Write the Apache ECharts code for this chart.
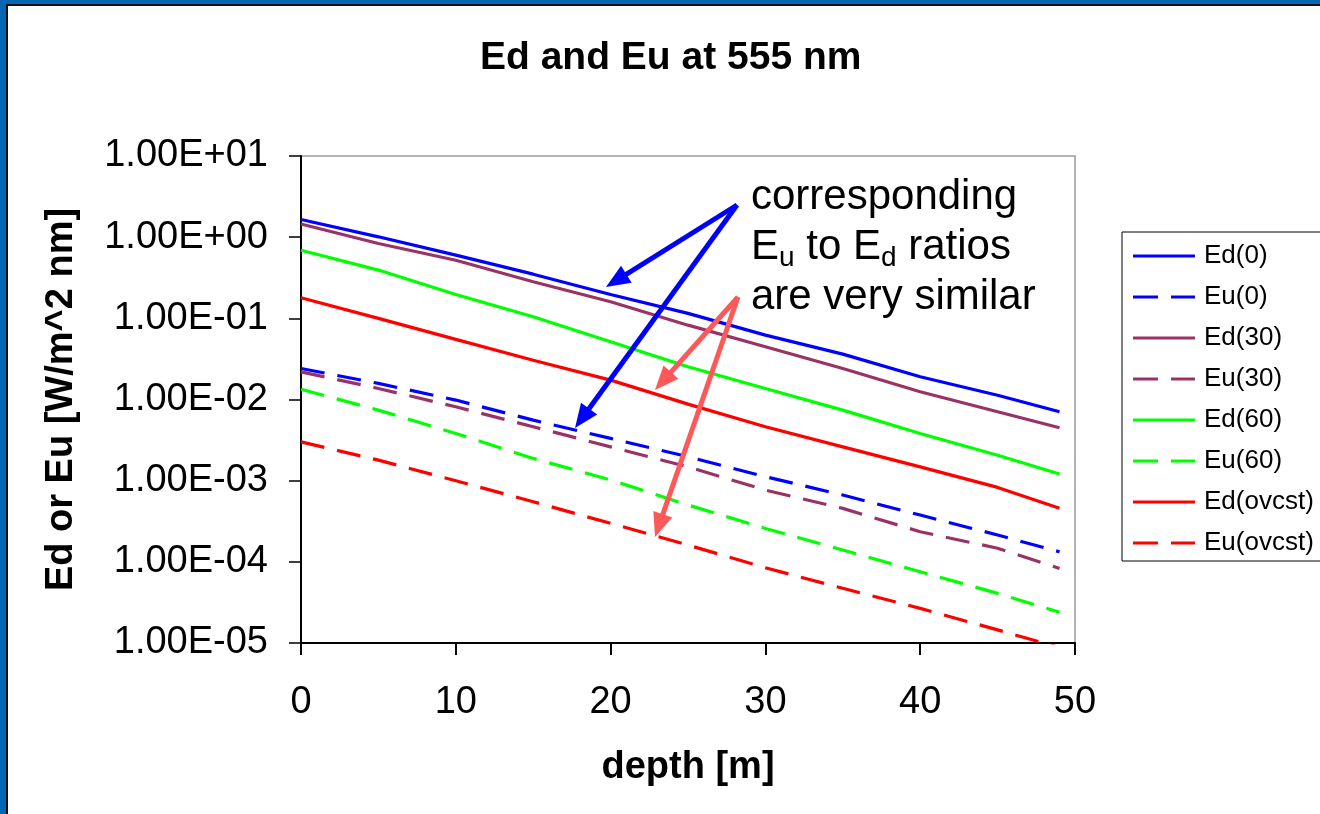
<!DOCTYPE html>
<html><head><meta charset="utf-8">
<script src="https://cdn.jsdelivr.net/npm/echarts@6/dist/echarts.min.js"></script>
<style>html,body{margin:0;padding:0;background:#fff}#c{width:1320px;height:814px}</style>
</head><body><div id="c"></div>
<script>
// ---- data ----
const depth = [0, 5, 10, 15, 20, 25, 30, 35, 40, 45, 49];
const Ed0     = [1.65, 1.01, 0.60, 0.35, 0.197, 0.115, 0.0621, 0.0362, 0.0191, 0.0113, 0.00706];
const Eu0     = [0.0241, 0.01578, 0.00984, 0.00557, 0.00332, 0.00197, 0.00112, 0.000665, 0.000377, 0.000214, 0.000133];
const Ed30    = [1.45, 0.835, 0.52, 0.282, 0.160, 0.0824, 0.0446, 0.0241, 0.01245, 0.00706, 0.00448];
const Eu30    = [0.0219, 0.01367, 0.00813, 0.00461, 0.00261, 0.00148, 0.000766, 0.000456, 0.000235, 0.000147, 0.000083];
const Ed60    = [0.69, 0.393, 0.197, 0.1045, 0.0514, 0.0253, 0.01367, 0.0074, 0.00382, 0.00206, 0.00121];
const Eu60    = [0.0134, 0.0074, 0.00382, 0.00188, 0.00102, 0.000501, 0.000258, 0.00014, 0.0000755, 0.0000409, 0.0000239];
const EdOvcst = [0.179, 0.0998, 0.055, 0.0305, 0.01734, 0.00877, 0.00461, 0.00261, 0.00148, 0.000826, 0.000456];
const EuOvcst = [0.00301, 0.00179, 0.000998, 0.00055, 0.000298, 0.000161, 0.0000845, 0.0000472, 0.0000267, 0.0000145, 0.0000088];
const seriesNames = ['Ed(0)', 'Eu(0)', 'Ed(30)', 'Eu(30)', 'Ed(60)', 'Eu(60)', 'Ed(ovcst)', 'Eu(ovcst)'];
const seriesData  = [Ed0, Eu0, Ed30, Eu30, Ed60, Eu60, EdOvcst, EuOvcst];
const yTickLabels = {'-5':'1.00E-05','-4':'1.00E-04','-3':'1.00E-03','-2':'1.00E-02','-1':'1.00E-01','0':'1.00E+00','1':'1.00E+01'};
const xTicks = [0, 10, 20, 30, 40, 50];

// ---- styles ----
const FONT = "'Liberation Sans', Arial, sans-serif";
const colors = ['#0000FF', '#0000FF', '#993366', '#993366', '#00FF00', '#00FF00', '#FF0000', '#FF0000'];
const ICON_SOLID  = 'path://M0,0h62v3h-62z';
const ICON_DASHED = 'path://M0,0h25v3h-25zM38,0h24v3h-24z';

const series = seriesNames.map((n, i) => ({
  name: n,
  type: 'line',
  data: depth.map((d, j) => [d, seriesData[i][j]]),
  symbol: 'none',
  showSymbol: false,
  clip: true,
  z: 3,
  lineStyle: { color: colors[i], width: 3.2, type: (i % 2 === 1) ? [24, 13] : 'solid', cap: 'butt' },
  itemStyle: { color: colors[i] }
}));

function arrow(x0, y0, x1, y1, color, w) {
  const dx = x1 - x0, dy = y1 - y0, L = Math.hypot(dx, dy), ux = dx / L, uy = dy / L;
  const hl = 24, hw = 10;
  const bx = x1 - ux * hl, by = y1 - uy * hl;
  return [
    { type: 'line', z: 100, shape: { x1: x0, y1: y0, x2: bx + ux * 3, y2: by + uy * 3 }, style: { stroke: color, lineWidth: w } },
    { type: 'polygon', z: 100, shape: { points: [[x1, y1], [bx - uy * hw, by + ux * hw], [bx + uy * hw, by - ux * hw]] }, style: { fill: color } }
  ];
}

const frameBlue = '#0666b2';
const graphics = [
  { type: 'rect', z: 200, shape: { x: 0, y: 0, width: 1320, height: 4 }, style: { fill: frameBlue } },
  { type: 'rect', z: 200, shape: { x: 0, y: 0, width: 6, height: 814 }, style: { fill: frameBlue } },
  { type: 'rect', z: 200, shape: { x: 6, y: 4, width: 1314, height: 2 }, style: { fill: '#111' } },
  { type: 'rect', z: 200, shape: { x: 6, y: 4, width: 2, height: 810 }, style: { fill: '#111' } },
  ...arrow(737, 205, 606, 287, '#0000FF', 5),
  ...arrow(737, 205, 575, 428, '#0000FF', 5),
  ...arrow(738, 297, 655, 390, '#FF5858', 5),
  ...arrow(738, 297, 655, 537, '#FF5858', 5),
  {
    type: 'text', z: 110, left: 751, top: 176,
    style: {
      text: '{n|corresponding}\n{n|E}{s|u}{n| to E}{s|d}{n| ratios}\n{n|are very similar}',
      fill: '#000',
      rich: {
        n: { fontSize: 42, lineHeight: 50, fontFamily: FONT, fill: '#000', verticalAlign: 'middle' },
        s: { fontSize: 28, lineHeight: 22, fontFamily: FONT, fill: '#000', verticalAlign: 'bottom' }
      }
    }
  }
];

const chart = echarts.init(document.getElementById('c'), null, { renderer: 'canvas' });
chart.setOption({
  animation: false,
  backgroundColor: '#fff',
  title: {
    text: 'Ed and Eu at 555 nm', left: 480, top: 39, padding: 0,
    textStyle: { fontSize: 39, fontWeight: 'bold', fontFamily: FONT, color: '#000' }
  },
  grid: { left: 301, top: 156, right: 245, bottom: 171, show: true, borderColor: '#9a9a9a', borderWidth: 1.5, backgroundColor: 'transparent' },
  legend: {
    orient: 'vertical', left: 1122, top: 232, padding: [9, 70, 3, 11],
    itemWidth: 62, itemHeight: 3, itemGap: 11, selectedMode: false,
    borderColor: '#000', borderWidth: 1, backgroundColor: '#fff',
    textStyle: { fontSize: 26, lineHeight: 30, fontFamily: FONT, color: '#000', padding: [0, 0, 0, 4] },
    data: seriesNames.map((n, i) => ({ name: n, icon: (i % 2 === 1) ? ICON_DASHED : ICON_SOLID, itemStyle: { color: colors[i], borderWidth: 0 } }))
  },
  xAxis: {
    type: 'value', min: xTicks[0], max: xTicks[xTicks.length - 1], interval: 10,
    name: 'depth [m]', nameLocation: 'middle', nameGap: 106,
    nameTextStyle: { fontSize: 38, fontWeight: 'bold', fontFamily: FONT, color: '#000' },
    axisLine: { show: true, lineStyle: { color: '#000', width: 2 } },
    axisTick: { show: true, inside: false, length: 12, lineStyle: { color: '#000', width: 2 } },
    axisLabel: { fontSize: 38, fontFamily: FONT, color: '#000', margin: 41 },
    splitLine: { show: false }
  },
  yAxis: {
    type: 'log', logBase: 10, min: 1e-5, max: 10, splitNumber: 6,
    name: 'Ed or Eu [W/m^2 nm]', nameLocation: 'middle', nameGap: 220, nameRotate: 90,
    nameTextStyle: { fontSize: 38, fontWeight: 'bold', fontFamily: FONT, color: '#000' },
    axisLine: { show: true, lineStyle: { color: '#000', width: 2 } },
    axisTick: { show: true, inside: false, length: 12, lineStyle: { color: '#000', width: 1.5 } },
    minorTick: { show: false },
    axisLabel: {
      fontSize: 38, fontFamily: FONT, color: '#000', margin: 33,
      formatter: v => { const e = Math.round(Math.log10(v)); return yTickLabels[String(e)] || ''; }
    },
    splitLine: { show: false }
  },
  series: series,
  graphic: graphics
});
</script>
</body></html>
